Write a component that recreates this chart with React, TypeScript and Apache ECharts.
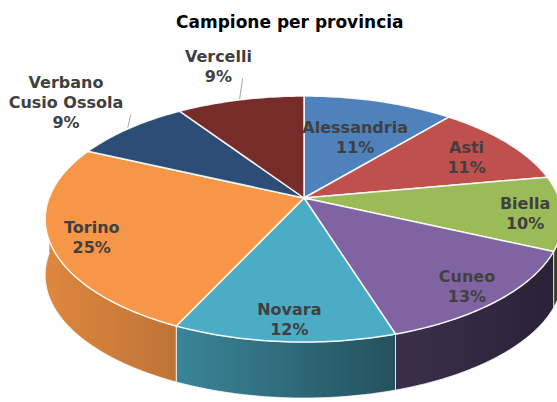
import React, { useEffect, useRef } from 'react';
import * as echarts from 'echarts';

const titleText = 'Campione per provincia';
const categories = ['Alessandria', 'Asti', 'Biella', 'Cuneo', 'Novara', 'Torino', 'Verbano Cusio Ossola', 'Vercelli'];
const values = [11.1, 11.0, 9.7, 13.3, 11.8, 24.9, 8.7, 9.4];
const sliceColors = ['#4F81BD', '#C0504D', '#9BBB59', '#8064A2', '#4BACC6', '#F79646', '#2C4D75', '#772C2A'];

function shade(hex: string, f: number): string {
  const n = parseInt(hex.slice(1), 16);
  const r = Math.round(((n >> 16) & 255) * f);
  const g = Math.round(((n >> 8) & 255) * f);
  const b = Math.round((n & 255) * f);
  return `rgb(${r},${g},${b})`;
}

export default function App() {
  const ref = useRef<HTMLDivElement>(null);
  useEffect(() => {
    const chart = echarts.init(ref.current!, null, { renderer: 'svg' });
    const total = values.reduce((a, b) => a + b, 0);
    const starts: number[] = [];
    let acc = 0;
    values.forEach((v) => {
      starts.push((acc / total) * 360);
      acc += v;
    });
    const CX = 304, CY = 198, A = 255, B = 119.4, P = 0.171, H = 56;
    const proj = (r: number, deg: number): number[] => {
      const t = (deg * Math.PI) / 180;
      const X = r * Math.sin(t);
      const Yd = r * Math.cos(t);
      const d = 1 + P * Yd;
      return [CX + (A * X) / d, CY - (B * Yd) / d];
    };
    const arc = (r: number, a: number, b: number) => {
      const n = Math.max(2, Math.ceil(b - a));
      const pts: number[][] = [];
      for (let k = 0; k <= n; k++) pts.push(proj(r, a + ((b - a) * k) / n));
      return pts;
    };
    const renderItem = (params: any, api: any) => {
      const i = params.dataIndex;
      const v = api.value(0);
      const a0 = starts[i];
      const a1 = a0 + (v / total) * 360;
      const mid = (a0 + a1) / 2;
      const color = sliceColors[i];
      const children: any[] = [];
      const wa = Math.max(a0, 90), wb = Math.min(a1, 270);
      if (wb > wa) {
        const top = arc(1, wa, wb);
        const bottom = top.map(([x, y]) => [x, y + H]).reverse();
        children.push({
          type: 'polygon',
          z2: 1,
          shape: { points: top.concat(bottom) },
          style: {
            fill: {
              type: 'linear', x: 45, y: 0, x2: 560, y2: 0, global: true,
              colorStops: [
                { offset: 0, color: shade(color, 0.9) },
                { offset: 0.27, color: shade(color, 0.76) },
                { offset: 0.7, color: shade(color, 0.46) },
                { offset: 1, color: shade(color, 0.33) },
              ],
            },
            stroke: 'rgba(255,255,255,0.75)',
            lineWidth: 1,
          },
        });
      }
      children.push({
        type: 'polygon',
        z2: 5,
        shape: { points: [[CX, CY]].concat(arc(1, a0, a1)) },
        style: { fill: color, stroke: 'rgba(255,255,255,0.9)', lineWidth: 1.5 },
      });
      const pct = Math.round((v / total) * 100) + '%';
      const name = categories[i].length > 14 ? categories[i].replace(' ', '\n') : categories[i];
      const yd = Math.cos((mid * Math.PI) / 180);
      const outside = v / total < 0.095;
      let lp: number[];
      if (outside) {
        lp = proj(1.42, mid);
        const e0 = proj(1.01, mid);
        children.push({
          type: 'line', z2: 8,
          shape: { x1: e0[0], y1: e0[1], x2: e0[0] + 3, y2: lp[1] + 12 },
          style: { stroke: '#A6A6A6', lineWidth: 1 },
        });
      } else {
        lp = proj(0.85 - Math.max(0, yd - 0.3) * 0.36, mid);
        lp = [lp[0] + 2, lp[1] + 3];
      }
      children.push({
        type: 'text', z2: 10, x: lp[0], y: lp[1],
        style: {
          text: name + '\n' + pct, fill: '#404040',
          font: 'bold 16px "DejaVu Sans"', align: 'center', verticalAlign: 'middle', lineHeight: 20,
        },
      });
      return { type: 'group', children };
    };
    chart.setOption({
      animation: false,
      backgroundColor: '#fff',
      title: {
        text: titleText, left: 171, top: 8,
        textStyle: { fontSize: 17, fontWeight: 'bold', fontFamily: 'DejaVu Sans', color: '#000' },
      },
      series: [{
        type: 'custom',
        coordinateSystem: 'none',
        data: values.map((v, i) => ({ value: v, name: categories[i] })),
        renderItem,
      }],
    });
    return () => chart.dispose();
  }, []);
  return <div ref={ref} style={{ position: 'absolute', left: 0, top: 0, width: 557, height: 402 }} />;
}
